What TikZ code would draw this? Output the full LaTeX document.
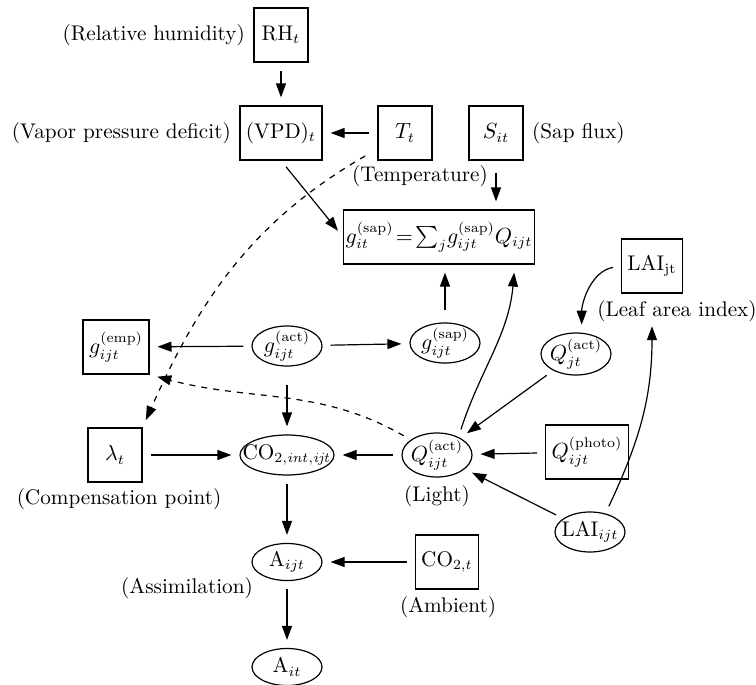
\documentclass[tikz,border=0pt]{standalone}
\usepackage{amsmath}
\usepackage{tikz}
\usetikzlibrary{positioning,shapes.geometric,arrows.meta}

\begin{document}
\begin{tikzpicture}[
  x=0.5pt, y=-0.5pt,
  every node/.style={font=\fontsize{10.6}{13}\selectfont},
  box/.style={draw,rectangle,minimum width=27pt,minimum height=27pt,inner sep=3pt},
  oval/.style={draw,ellipse,inner sep=-20pt,minimum width=35pt,minimum height=20pt},
  lbl/.style={inner sep=1pt},
  line width=0.6pt, ->, >={Triangle[length=7pt,width=5pt]},
  shorten >=4pt, shorten <=4pt
]
  \useasboundingbox (0,0) rectangle (756,685);

  \node[box] (rh) at (281,35) {RH$_t$};
  \node[lbl,left=3pt of rh] (rhl) {(Relative humidity)};
  \node[box] (vpd) at (281,133) {(VPD)$_t$};
  \node[lbl,left=3pt of vpd] (vpdl) {(Vapor pressure deficit)};
  \node[box] (tt) at (405,133) {$T_t$};
  \node[lbl] (ttl) at (420,176) {(Temperature)};
  \node[box] (s) at (496,133) {$S_{it}$};
  \node[lbl,right=3pt of s] (sl) {(Sap flux)};
  \node[box,inner xsep=1pt,minimum width=91pt] (fs) at (439,237)
    {$g_{it}^{(\mathrm{sap})}\!=\!\sum_j\! g_{ijt}^{(\mathrm{sap})}Q_{ijt}$};
  \node[box] (laij) at (652,266) {LAI$_{\mathrm{jt}}$};
  \node[lbl] (laijl) at (677,311) {(Leaf area index)};

  \node[box] (gemp) at (116,347) {$g_{ijt}^{(\mathrm{emp})}$};
  \node[oval] (gact) at (287,346) {$g_{ijt}^{(\mathrm{act})}$};
  \node[oval] (gsap) at (445,343) {$g_{ijt}^{(\mathrm{sap})}$};
  \node[oval,minimum height=21pt] (qj) at (576,354) {$Q_{jt}^{(\mathrm{act})}$};

  \node[box] (lam) at (115,455) {$\lambda_t$};
  \node[lbl] (laml) at (119,499) {(Compensation point)};
  \node[oval,minimum width=47pt] (co2) at (287,455) {CO$_{2,\mathit{int},\mathit{ijt}}$};
  \node[oval,minimum height=22pt] (qa) at (437,455) {$Q_{ijt}^{(\mathrm{act})}$};
  \node[lbl] (qal) at (437,496) {(Light)};
  \node[box] (qp) at (587,452) {$Q_{ijt}^{(\mathrm{photo})}$};
  \node[oval] (laii) at (590,532) {LAI$_{ijt}$};

  \node[oval,minimum height=18.5pt] (aij) at (287,562) {A$_{ijt}$};
  \node[lbl] (aijl) at (187,588) {(Assimilation)};
  \node[box] (co2t) at (447,562) {CO$_{2,t}$};
  \node[lbl] (co2tl) at (448,607) {(Ambient)};
  \node[oval,minimum height=18.5pt] (ai) at (287,667) {A$_{it}$};

  \draw (rh) -- (vpd);
  \draw (tt) -- (vpd);
  \draw (vpd.south) -- (fs.west);
  \draw[shorten <=6pt] (s) -- (s |- fs.north);
  \draw[dashed,shorten <=7pt] (tt) to[out=210,in=66] (lam.north east);
  \draw (laij.west) to[out=190,in=90] (qj.75);
  \draw[shorten >=1pt] (laii.50) to[out=65,in=-90] (laij |- laijl.south);

  \draw (gact) -- (gemp);
  \draw (gact) -- (gsap);
  \draw[shorten <=9pt] (gact) -- (co2);
  \draw[shorten <=6pt] (gsap) -- (gsap |- fs.south);
  \draw (qa.40) to[out=72,in=-95] (fs.-20);
  \draw[dashed] (qa) to[out=150,in=-15] (gemp.south east);

  \draw (qj) -- (qa);
  \draw (qp) -- (qa);
  \draw (laii) -- (qa);
  \draw (qa) -- (co2);
  \draw (lam) -- (co2);
  \draw (co2) -- (aij);
  \draw (co2t) -- (aij);
  \draw (aij) -- (ai);
\end{tikzpicture}
\end{document}
